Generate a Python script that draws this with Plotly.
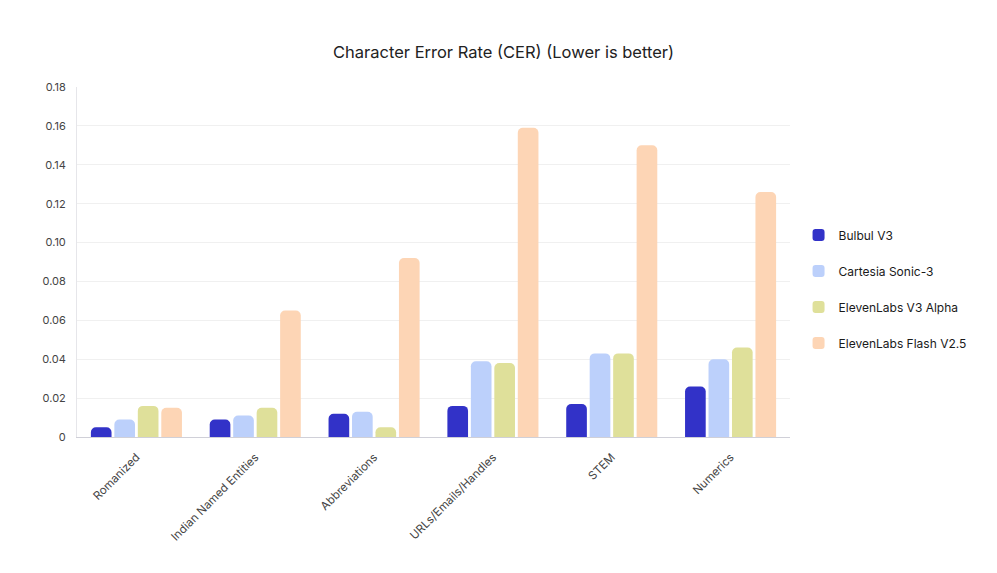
import plotly.graph_objects as go

categories = ["Romanized", "Indian Named Entities", "Abbreviations",
              "URLs/Emails/Handles", "STEM", "Numerics"]

bulbul_v3 = [0.005, 0.009, 0.012, 0.016, 0.017, 0.026]
cartesia_sonic3 = [0.009, 0.011, 0.013, 0.039, 0.043, 0.040]
elevenlabs_v3_alpha = [0.016, 0.015, 0.005, 0.038, 0.043, 0.046]
elevenlabs_flash_v25 = [0.015, 0.065, 0.092, 0.159, 0.150, 0.126]

y_ticks = [0, 0.02, 0.04, 0.06, 0.08, 0.10, 0.12, 0.14, 0.16, 0.18]
y_tick_labels = ["0", "0.02", "0.04", "0.06", "0.08", "0.10", "0.12", "0.14", "0.16", "0.18"]

series = [
    ("Bulbul V3", bulbul_v3, "#3232c8"),
    ("Cartesia Sonic-3", cartesia_sonic3, "#bcd0fb"),
    ("ElevenLabs V3 Alpha", elevenlabs_v3_alpha, "#dfe09a"),
    ("ElevenLabs Flash V2.5", elevenlabs_flash_v25, "#fdd5b5"),
]

fig = go.Figure()
for name, values, color in series:
    fig.add_trace(go.Bar(
        x=categories, y=values, name=name, legendgroup=name,
        marker=dict(color=color, cornerradius=5, line=dict(width=0)),
    ))

# page body adds 8px around the figure, margins are set accordingly
fig.update_layout(
    width=997, height=573,
    paper_bgcolor="white", plot_bgcolor="white",
    font=dict(family="Inter, sans-serif", color="#555555", size=11),
    title=dict(text="Character Error Rate (CER) (Lower is better)",
               x=0.497, xanchor="center", y=1 - 44 / 573, yanchor="middle",
               font=dict(size=16.5, color="#222222")),
    margin=dict(l=69, r=215, t=79, b=144, autoexpand=False),
    barmode="group", bargap=0.21, bargroupgap=0.12,
    legend=dict(x=1.012, xanchor="left", y=0.423, yanchor="middle",
                traceorder="grouped", tracegroupgap=17,
                font=dict(size=12, color="#1a1a1a")),
)
fig.update_xaxes(tickangle=-45, showline=True, linecolor="#d0d0d8", linewidth=1,
                 ticks="", showgrid=False, ticklabelstandoff=8,
                 tickfont=dict(size=11.5, color="#444444"))
fig.update_yaxes(range=[0, 0.18], tickvals=y_ticks, ticktext=y_tick_labels,
                 showgrid=True, gridcolor="#f0f0f0", showline=True, linecolor="#e6e6ea",
                 zeroline=False, ticks="", ticklabelstandoff=8,
                 tickfont=dict(size=11, color="#444444"))

fig.write_html("out.html")
